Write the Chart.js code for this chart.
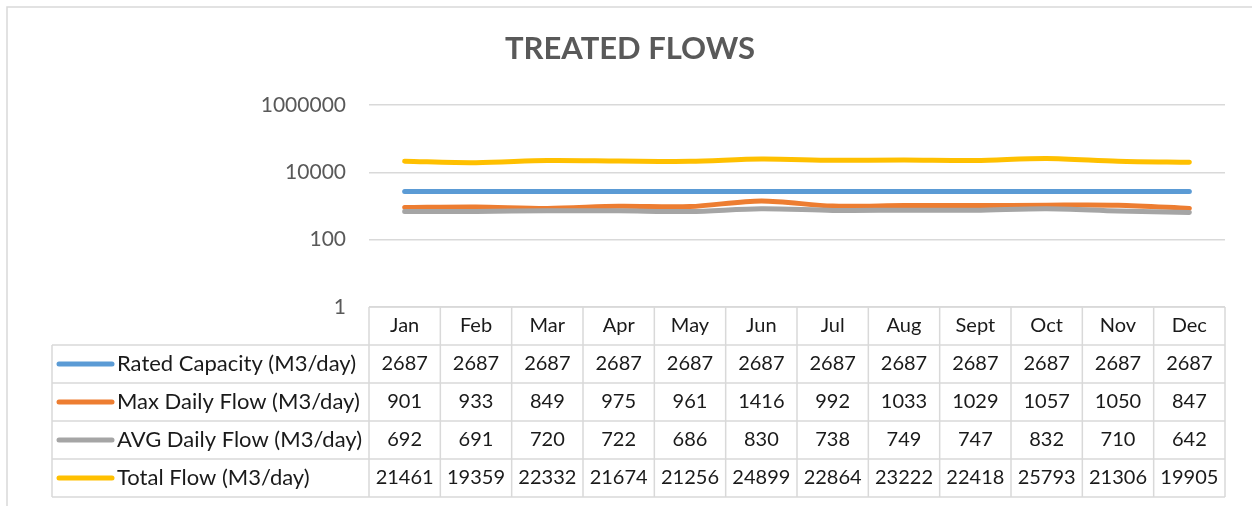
<!DOCTYPE html>
<html>
<head>
<meta charset="utf-8">
<script src="https://cdn.jsdelivr.net/npm/chart.js@4.4.1/dist/chart.umd.min.js"></script>
<style>
  body { margin: 0; background: #fff; }
  canvas { display: block; }
</style>
</head>
<body>
<canvas id="flowChart" width="1252" height="506"></canvas>
<script>
const months = ["Jan", "Feb", "Mar", "Apr", "May", "Jun", "Jul", "Aug", "Sept", "Oct", "Nov", "Dec"];
const seriesNames = ["Rated Capacity (M3/day)", "Max Daily Flow (M3/day)", "AVG Daily Flow (M3/day)", "Total Flow (M3/day)"];
const ratedCapacity = [2687, 2687, 2687, 2687, 2687, 2687, 2687, 2687, 2687, 2687, 2687, 2687];
const maxDailyFlow = [901, 933, 849, 975, 961, 1416, 992, 1033, 1029, 1057, 1050, 847];
const avgDailyFlow = [692, 691, 720, 722, 686, 830, 738, 749, 747, 832, 710, 642];
const totalFlow = [21461, 19359, 22332, 21674, 21256, 24899, 22864, 23222, 22418, 25793, 21306, 19905];
const yTicks = [1, 100, 10000, 1000000];

const colors = ["#5B9BD5", "#ED7D31", "#A5A5A5", "#FFC000"];
const allSeries = [ratedCapacity, maxDailyFlow, avgDailyFlow, totalFlow];

const FONT = "Lato";

// title, data table and frame, drawn around the plot area
const tablePlugin = {
  id: "dataTable",
  afterDraw(chart) {
    const c = chart.ctx;
    const area = chart.chartArea;
    const xs = chart.scales.x;
    const colW = (area.right - area.left) / months.length;
    const rowH = 38;
    const top = area.bottom;
    const labelLeft = 52;
    const bottom = top + rowH * 5;

    c.save();

    // outer frame
    c.strokeStyle = "#d9d9d9";
    c.lineWidth = 1.5;
    c.strokeRect(7, 7, 1400, 700);

    // title
    c.fillStyle = "#595959";
    c.font = "bold 31px " + FONT;
    c.textAlign = "center";
    c.textBaseline = "middle";
    c.fillText("TREATED FLOWS", 630, 49);

    // table grid
    c.strokeStyle = "#d9d9d9";
    c.lineWidth = 1.5;
    c.beginPath();
    c.moveTo(area.left, top);
    c.lineTo(area.right, top);
    for (let r = 1; r <= 5; r++) {
      c.moveTo(labelLeft, top + r * rowH);
      c.lineTo(area.right, top + r * rowH);
    }
    c.moveTo(labelLeft, top + rowH);
    c.lineTo(labelLeft, bottom);
    for (let i = 0; i <= months.length; i++) {
      const x = area.left + i * colW;
      c.moveTo(x, top);
      c.lineTo(x, bottom);
    }
    c.stroke();

    // header
    c.fillStyle = "#1a1a1a";
    c.font = "20px " + FONT;
    c.textAlign = "center";
    months.forEach((m, i) => {
      c.fillText(m, xs.getPixelForValue(i), top + rowH / 2);
    });

    // rows
    allSeries.forEach((vals, r) => {
      const cy = top + rowH * (r + 1) + rowH / 2;
      c.strokeStyle = colors[r];
      c.lineWidth = 5;
      c.lineCap = "round";
      c.beginPath();
      c.moveTo(59, cy);
      c.lineTo(112, cy);
      c.stroke();

      c.fillStyle = "#1a1a1a";
      c.textAlign = "left";
      c.font = "22px " + FONT;
      c.fillText(seriesNames[r], 117, cy);
      c.textAlign = "center";
      c.font = "20px " + FONT;
      vals.forEach((v, i) => {
        c.fillText(String(v), xs.getPixelForValue(i), cy);
      });
    });

    c.restore();
  }
};

const ctx = document.getElementById("flowChart").getContext("2d");

new Chart(ctx, {
  type: "line",
  data: {
    labels: months,
    datasets: allSeries.map((vals, i) => ({
      label: seriesNames[i],
      data: vals,
      borderColor: colors[i],
      borderWidth: 5,
      borderCapStyle: "round",
      pointRadius: 0,
      fill: false,
      tension: 0.3,
      order: allSeries.length - i,
    })),
  },
  options: {
    responsive: false,
    animation: false,
    layout: {
      padding: { top: 105, right: 27, bottom: 199, left: 0 },
    },
    scales: {
      x: {
        type: "category",
        offset: true,
        display: false,
      },
      y: {
        type: "logarithmic",
        min: 1,
        max: 1000000,
        afterBuildTicks: (scale) => {
          scale.ticks = yTicks.map((v) => ({ value: v }));
        },
        afterFit: (scale) => {
          scale.width = 369;
        },
        ticks: {
          color: "#595959",
          font: { family: FONT, size: 21 },
          padding: 23,
          callback: (v) => String(v),
        },
        grid: {
          color: "#d9d9d9",
          lineWidth: 1.5,
          drawTicks: false,
        },
        border: { display: false },
      },
    },
    plugins: {
      legend: { display: false },
      title: { display: false },
      tooltip: { enabled: false },
    },
  },
  plugins: [tablePlugin],
});
</script>
</body>
</html>
